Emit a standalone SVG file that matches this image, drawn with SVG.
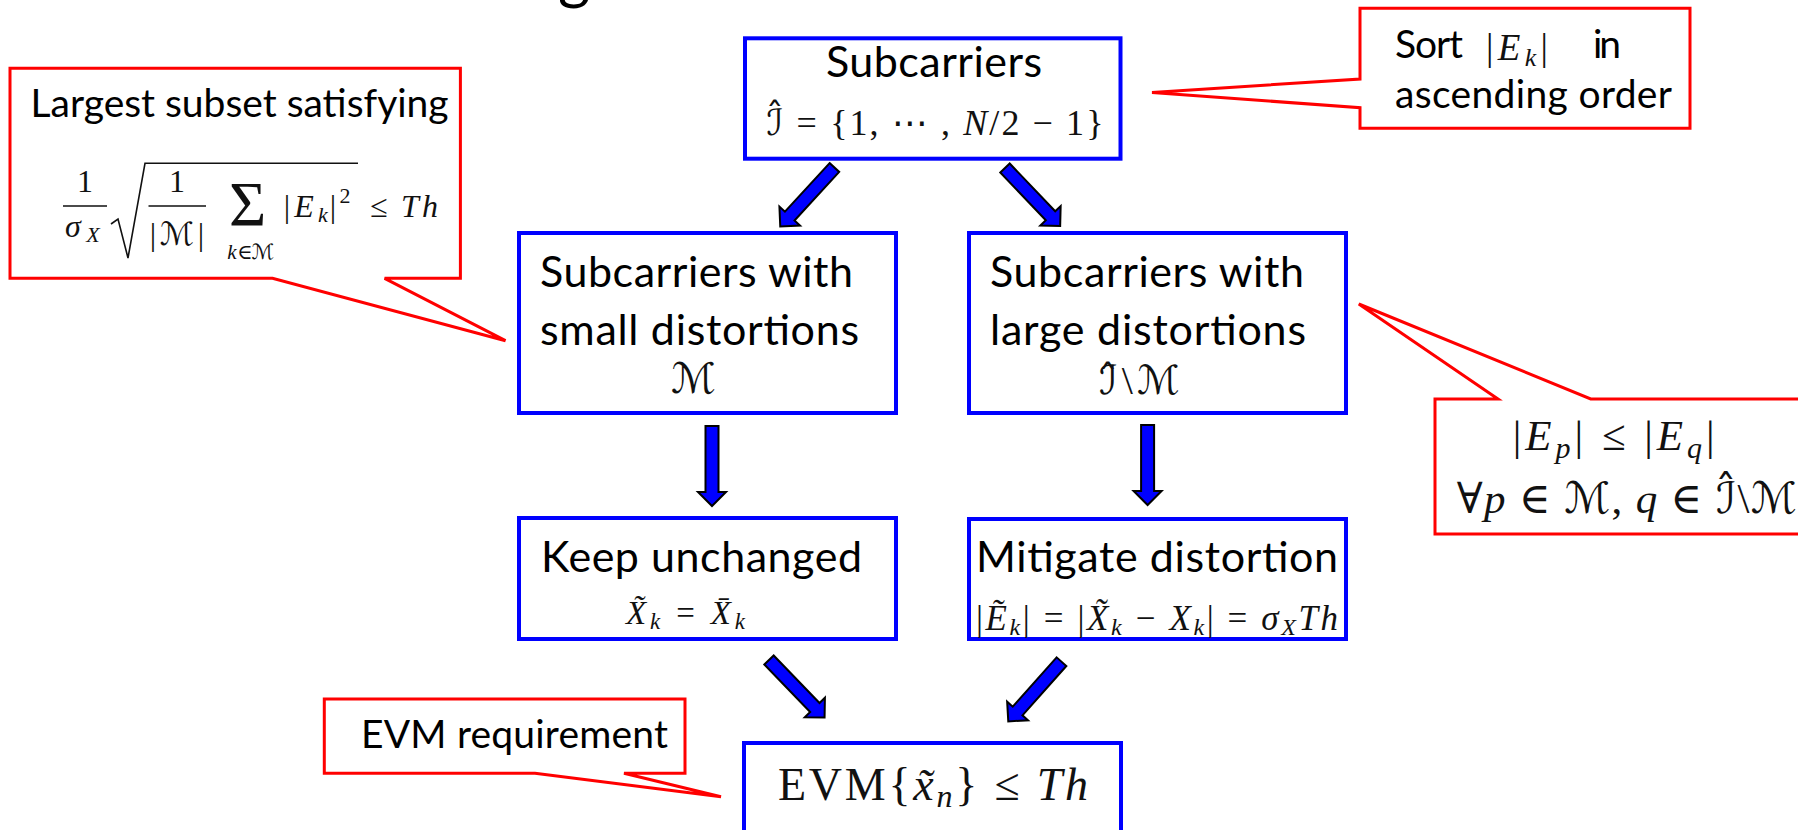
<svg xmlns="http://www.w3.org/2000/svg" width="1798" height="830" viewBox="0 0 1798 830">
<style>
.node{fill:#fff;stroke:#0000ff;stroke-width:4}
.call{fill:#fff;stroke:#ff0000;stroke-width:3;stroke-linejoin:miter}
.t{font-family:Lato,"Open Sans","Liberation Sans",sans-serif;font-size:43px;fill:#000}
.ct{font-family:Lato,"Open Sans","Liberation Sans",sans-serif;font-size:39px;fill:#000}
.m{font-family:"Liberation Serif","DejaVu Serif","DejaVu Sans",serif;fill:#111}
.i{font-style:italic}
.cal{font-family:"DejaVu Sans","DejaVu Serif",serif;font-style:normal}
.arr{fill:#0000ff;stroke:#000;stroke-width:2;stroke-linejoin:miter}
.rule{stroke:#111;stroke-width:1.6;fill:none}
</style>
<defs>
<path id="arrow" d="M-6.5 0H6.5V66H14L0 80L-14 66H-6.5Z"/>
</defs>
<rect width="1798" height="830" fill="#fff"/>

<text class="t" x="558" y="-3" style="font-size:62px">g</text>

<g id="connectors">
<use href="#arrow" class="arr" transform="translate(834.4 167.5) rotate(42.6)"/>
<use href="#arrow" class="arr" transform="translate(1005 168) rotate(-43.6)"/>
<use href="#arrow" class="arr" transform="translate(712 426)"/>
<use href="#arrow" class="arr" transform="translate(1147.6 425)"/>
<use href="#arrow" class="arr" transform="translate(769 660) rotate(-44)"/>
<use href="#arrow" class="arr" transform="translate(1061.5 661.7) rotate(41.7)"/>
</g>

<g id="node-subcarriers">
<rect class="node" x="745" y="38.3" width="375.5" height="120.4"/>
<text class="t" x="826" y="77.3" textLength="216">Subcarriers</text>
<text class="m" font-size="36" x="766.5" y="135" textLength="337"><tspan class="cal">ℐ̂</tspan> = {1, ⋯ , <tspan class="i">N</tspan>/2 − 1}</text>
</g>

<g id="node-small">
<rect class="node" x="519" y="233" width="377" height="180"/>
<text class="t" x="540" y="286.7" textLength="313">Subcarriers with</text>
<text class="t" x="540" y="345" textLength="319">small distortions</text>
<text class="m cal" text-anchor="middle" font-size="42" x="693.5" y="393">ℳ</text>
</g>

<g id="node-large">
<rect class="node" x="969" y="233" width="377" height="180"/>
<text class="t" x="990" y="287.3" textLength="314">Subcarriers with</text>
<text class="t" x="990" y="345" textLength="316">large distortions</text>
<text class="m" font-size="40" x="1099" y="394"><tspan class="cal">ℐ̂</tspan><tspan dx="4">\</tspan><tspan class="cal" dx="4">ℳ</tspan></text>
</g>

<g id="node-keep">
<rect class="node" x="519" y="518" width="377" height="121"/>
<text class="t" x="541" y="571.7" textLength="321">Keep unchanged</text>
<text class="m" font-size="33" x="626" y="624" textLength="119"><tspan class="i">X̃</tspan><tspan class="i" font-size="23" dy="5">k</tspan><tspan dy="-5"> = </tspan><tspan class="i">X̄</tspan><tspan class="i" font-size="23" dy="5">k</tspan></text>
</g>

<g id="node-mitigate">
<rect class="node" x="969" y="519" width="377" height="120"/>
<text class="t" x="976" y="572.3" textLength="362">Mitigate distortion</text>
<text class="m" font-size="35" x="976" y="630" textLength="362">|<tspan class="i">Ẽ</tspan><tspan class="i" font-size="24" dy="5">k</tspan><tspan dy="-5">| = |</tspan><tspan class="i">X̃</tspan><tspan class="i" font-size="24" dy="5">k</tspan><tspan dy="-5"> − </tspan><tspan class="i">X</tspan><tspan class="i" font-size="24" dy="5">k</tspan><tspan dy="-5">| = </tspan><tspan class="i">σ</tspan><tspan class="i" font-size="24" dy="5">X</tspan><tspan class="i" dy="-5">Th</tspan></text>
</g>

<g id="node-evm">
<rect class="node" x="744" y="743" width="377" height="110"/>
<text class="m" font-size="46" x="778" y="800" textLength="310">EVM{<tspan class="i">x̃</tspan><tspan class="i" font-size="32" dy="7">n</tspan><tspan dy="-7">} ≤ </tspan><tspan class="i">Th</tspan></text>
</g>

<g id="callout-subset">
<path class="call" d="M10 68.3H460.4V278.3H384.6L505.5 340.7L272.5 278.3H10Z"/>
<text class="ct" x="30.6" y="116.7" textLength="418">Largest subset satisfying</text>
<text class="m" text-anchor="middle" font-size="32"><tspan x="85" y="191.7">1</tspan><tspan class="i" x="73" y="237.3">σ</tspan><tspan class="i" x="93" y="241.7" font-size="22">X</tspan><tspan x="177" y="191.7">1</tspan><tspan x="153" y="245">|</tspan><tspan class="cal" x="177" y="245">ℳ</tspan><tspan x="201" y="245">|</tspan><tspan x="247.5" y="226" font-size="64">Σ</tspan><tspan class="i" x="232" y="259" font-size="21">k</tspan><tspan x="245" y="259" font-size="21">∈</tspan><tspan class="cal" x="263" y="259" font-size="21">ℳ</tspan><tspan x="287" y="217">|</tspan><tspan class="i" x="304" y="217">E</tspan><tspan class="i" x="323" y="222" font-size="22">k</tspan><tspan x="333" y="217">|</tspan><tspan x="345" y="203" font-size="22">2</tspan><tspan x="379" y="217">≤</tspan><tspan class="i" x="410" y="217">T</tspan><tspan class="i" x="430" y="217">h</tspan></text>
<path class="rule" d="M63 206H107M148.5 206H206"/>
<path class="rule" d="M111 224L118 219L128 258L145 163.3H358"/>
</g>

<g id="callout-sort">
<path class="call" d="M1360 8.3H1690V128.3H1360V107.7L1152 92.5L1360 79Z"/>
<text class="ct" x="1395" y="58.3" textLength="68">Sort</text>
<text class="m" font-size="37" x="1486" y="60" textLength="62">|<tspan class="i">E</tspan><tspan class="i" font-size="26" dy="6">k</tspan><tspan dy="-6">|</tspan></text>
<text class="ct" x="1593" y="58.3" textLength="28">in</text>
<text class="ct" x="1395" y="108.3" textLength="277">ascending order</text>
</g>

<g id="callout-order">
<path class="call" d="M1435 399H1498L1358.8 304L1590.7 399H1812V534H1435Z"/>
<text class="m" font-size="43" x="1512.7" y="450" textLength="202">|<tspan class="i">E</tspan><tspan class="i" font-size="30" dy="8">p</tspan><tspan dy="-8">| ≤ |</tspan><tspan class="i">E</tspan><tspan class="i" font-size="30" dy="8">q</tspan><tspan dy="-8">|</tspan></text>
<text class="m" font-size="43" x="1456.7" y="513" textLength="340">∀<tspan class="i">p</tspan> ∈ <tspan class="cal">ℳ</tspan>, <tspan class="i">q</tspan> ∈ <tspan class="cal">ℐ̂</tspan>\<tspan class="cal">ℳ</tspan></text>
</g>

<g id="callout-evm">
<path class="call" d="M324.3 699H685V773.3H624L721 796.7L535 773.3H324.3Z"/>
<text class="ct" x="361" y="748.3" textLength="307">EVM requirement</text>
</g>
</svg>
